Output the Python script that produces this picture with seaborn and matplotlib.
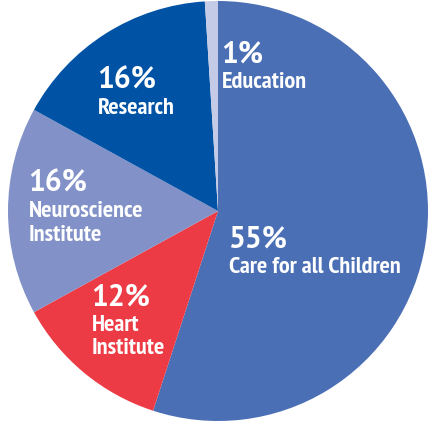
import matplotlib
matplotlib.use("Agg")
import matplotlib.pyplot as plt
import seaborn as sns
from matplotlib import font_manager

categories = ["Care for all Children", "Heart\nInstitute", "Neuroscience\nInstitute", "Research", "Education"]
shares = [55, 12, 16, 16, 1]
pct_labels = ["55%", "12%", "16%", "16%", "1%"]
colors = ["#4a6fb5", "#ec3b44", "#8292c8", "#0052a5", "#c3cbe6"]

sns.set_theme(style="white")
names = {f.name for f in font_manager.fontManager.ttflist}


def pick(options):
    for o in options:
        if o in names:
            return o
    return "DejaVu Sans"


narrow = pick(["PT Sans Narrow", "Roboto Condensed", "Fira Sans Condensed", "Liberation Sans Narrow", "Liberation Sans"])
regular = pick(["PT Sans", "Fira Sans", "Open Sans", "Liberation Sans"])
plt.rcParams["font.family"] = [narrow, "DejaVu Sans"]

W, H = 433, 424
fig = plt.figure(figsize=(W / 100, H / 100), dpi=100)
cx, cy, r = 218, 211, 210
ax = fig.add_axes([(cx - r) / W, (H - cy - r) / H, 2 * r / W, 2 * r / H])
ax.pie(shares, colors=colors, startangle=90, counterclock=False, radius=1,
       wedgeprops=dict(linewidth=0))
ax.set_xlim(-1, 1)
ax.set_ylim(-1, 1)
ax.set_aspect("equal")
ax.axis("off")

# label anchor (left x, baseline of percent) in pixels
anchors = [(228, 248), (91, 306), (28, 192), (97, 89), (221, 63)]
for (x, y), p, c in zip(anchors, pct_labels, categories):
    fig.text(x / W, 1 - y / H, p, color="white", fontsize=21.5, fontweight="bold",
             family=[regular, "DejaVu Sans"], ha="left", va="baseline")
    for i, line in enumerate(c.split("\n")):
        fig.text((x + 1) / W, 1 - (y + 25 + 23.5 * i) / H, line, color="white", fontsize=17.5,
                 fontweight="bold", ha="left", va="baseline")

fig.savefig("out.png", dpi=100, facecolor="white")
